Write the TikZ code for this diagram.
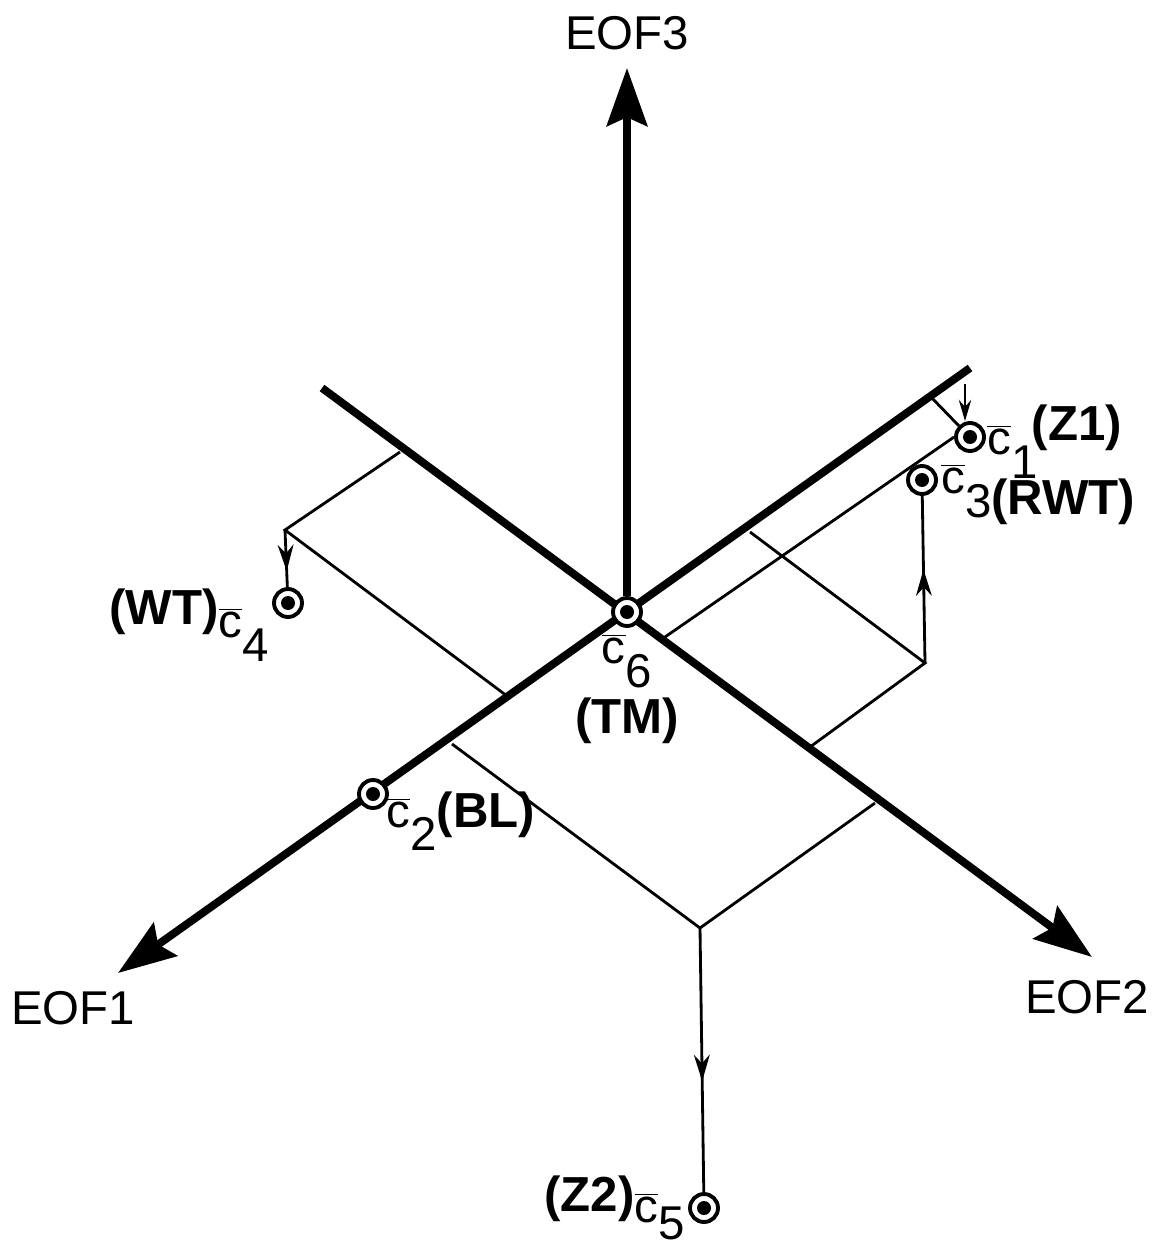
\documentclass[tikz,border=0pt]{standalone}
\usepackage{fontspec}
\setmainfont{Liberation Sans}
\usepackage{xcolor}
\usepackage{tikz}
\usetikzlibrary{positioning, arrows.meta, backgrounds, decorations.markings}
\newcommand{\cbar}[2][-0.5em]{$\overline{\mbox{c}}$\raisebox{#1}[0pt][0pt]{#2}}
\newcommand{\bname}[2]{\raisebox{#1}[0pt][0pt]{\bfseries\fontsize{28}{30}\selectfont #2}}

\begin{document}
\begin{tikzpicture}[
    x=0.02cm, y=-0.02cm,
    ring/.style={circle, draw, line width=2.2pt, fill=white, minimum size=0.56cm, inner sep=0pt,
        path picture={\fill[black] (path picture bounding box.center) circle (0.14cm);}},
    lab/.style={font=\fontsize{27}{29}\selectfont, inner sep=0pt, align=center},
    axis/.style={line width=4.5pt},
    axisarrow/.style={axis, -{Stealth[length=33pt, width=23pt, inset=5pt]}},
    thinline/.style={line width=1.6pt},
    arrow/.style={thinline, -{Stealth[length=12pt, width=7pt]}},
    midarrow/.style={thinline, postaction={decorate}, decoration={markings,
        mark=at position #1 with {\arrow{Stealth[length=15pt, width=9pt]}}}}
]
\useasboundingbox (0,0) rectangle (1153,1246);

\node[ring] (c1) at (970,437) {};
\node[ring] (c2) at (373,794) {};
\node[ring] (c3) at (922,480) {};
\node[ring] (c4) at (288,603) {};
\node[ring] (c5) at (704,1208) {};
\node[ring] (c6) at (627,612) {};

\coordinate (eof1end) at (970,368);
\coordinate (eof1tip) at (118,973);
\coordinate (eof2end) at (322,388);
\coordinate (eof2tip) at (1092,957);
\coordinate (eof3tip) at (627,68);

\node[lab] (eof1) at (73,1008) {EOF1};
\node[lab] (eof2) at (1087,997) {EOF2};
\node[lab] (eof3) at (627,33) {EOF3};

\node[lab, right=0.02cm of c1, yshift=-0.06cm] (c1lab) {\cbar{1}\kern-0.12em\bname{0.3em}{(Z1)}};
\node[lab, right=0.06cm of c3, yshift=0.02cm] (c3lab) {\cbar{3}\bname{-0.45em}{(RWT)}};
\node[lab, left=0.06cm of c4, yshift=-0.4cm] (c4lab) {\bname{0.28em}{(WT)}\cbar{4}};
\node[lab, left=0.06cm of c5, yshift=0cm] (c5lab) {\bname{0.22em}{(Z2)}\cbar[-0.36em]{5}};
\node[lab, below right=-0.15cm and 0.04cm of c2] (c2lab) {\cbar{2}\bname{0pt}{(BL)}};
\node[lab, below=0.13cm of c6] (c6lab) {\cbar{6}\\[0.38cm]\bname{0pt}{(TM)}};

\coordinate (a1) at (930,396);
\coordinate (a2) at (965,384);
\coordinate (a3) at (665,637);
\coordinate (b1) at (750,532);
\coordinate (b2) at (925,663);
\coordinate (b3) at (810,747);
\coordinate (d1) at (400,452);
\coordinate (d2) at (285,530);
\coordinate (d3) at (507,696);
\coordinate (e1) at (452,744);
\coordinate (e2) at (700,928);
\coordinate (e3) at (875,803);

\begin{scope}[on background layer]
\draw[axisarrow] (eof1end) -- (eof1tip);
\draw[axisarrow] (eof2end) -- (eof2tip);
\draw[axisarrow] (c6) -- (eof3tip);

\draw[thinline] (a1) -- (c1.north west);
\draw[thinline] (a3) -- (c1.west);
\draw[thinline] (b1) -- (b2) -- (b3);
\draw[thinline] (d1) -- (d2) -- (d3);
\draw[thinline] (e1) -- (e2) -- (e3);
\end{scope}

\draw[arrow] (a2) -- (a2 |- c1.north);
\draw[midarrow=0.56] (b2) -- (c3);
\draw[midarrow=0.72] (d2) -- (c4);
\draw[midarrow=0.58] (e2) -- (c5);
\end{tikzpicture}
\end{document}
